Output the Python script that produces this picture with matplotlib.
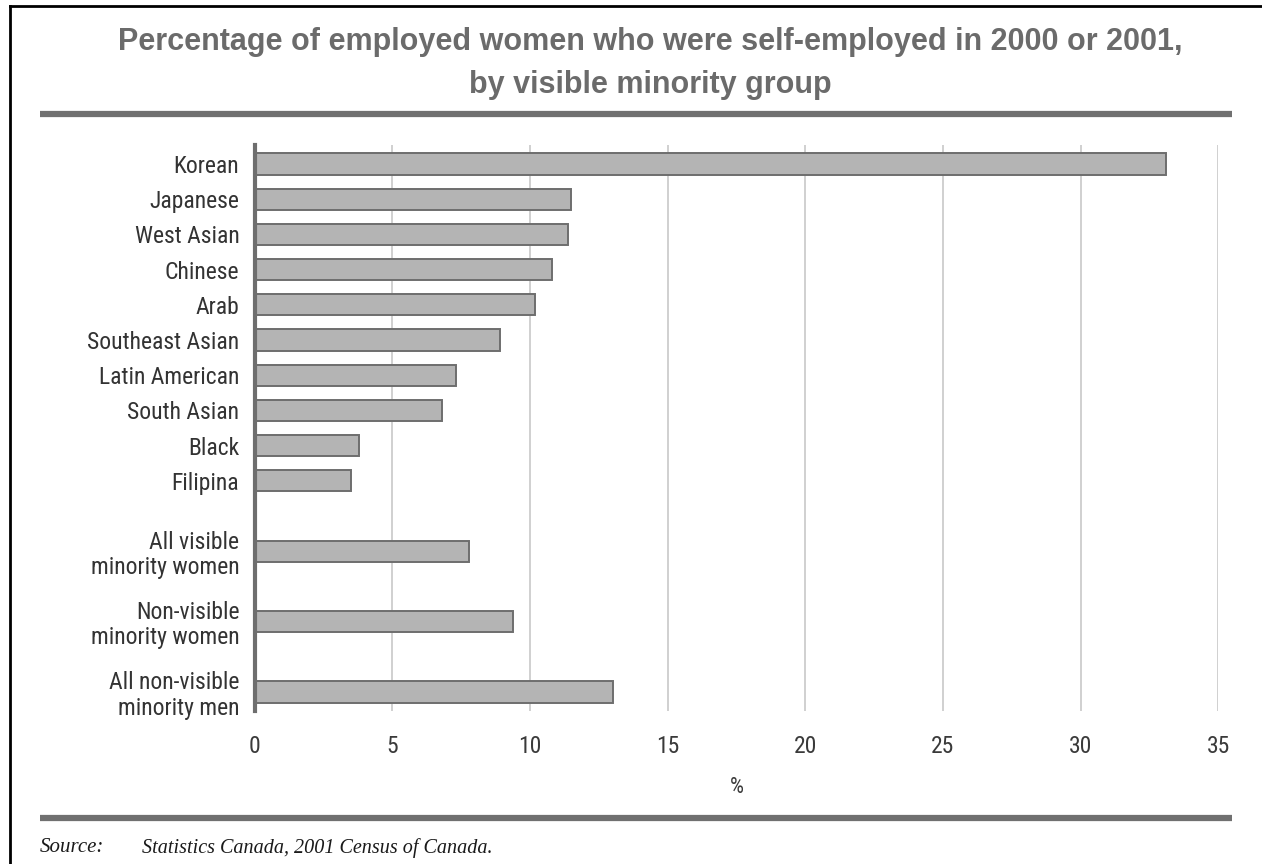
import matplotlib
matplotlib.use("Agg")
import matplotlib.pyplot as plt
from matplotlib.lines import Line2D

# Self-employment rates (%) of employed women, 2000 or 2001
groups = [
    "Korean", "Japanese", "West Asian", "Chinese", "Arab",
    "Southeast Asian", "Latin American", "South Asian", "Black", "Filipina",
    "All visible\nminority women", "Non-visible\nminority women",
    "All non-visible\nminority men",
]
percent = [33.1, 11.5, 11.4, 10.8, 10.2, 8.9, 7.3, 6.8, 3.8, 3.5, 7.8, 9.4, 13.0]
# row slots: a blank slot separates the group rows from the summary rows
slots = [0, 1, 2, 3, 4, 5, 6, 7, 8, 9, 11, 13, 15]
x_ticks = [0, 5, 10, 15, 20, 25, 30, 35]

title_lines = ["Percentage of employed women who were self-employed in 2000 or 2001,",
               "by visible minority group"]
source_label = "Source:"
source_text = "Statistics Canada, 2001 Census of Canada."

label_font = ["Liberation Sans Narrow", "Roboto Condensed", "Roboto", "DejaVu Sans"]

W, H = 1262, 864
fig = plt.figure(figsize=(W / 100, H / 100), dpi=100)
fig.patch.set_facecolor("white")

ax = fig.add_axes([254.6 / W, 1 - 711 / H, (1218.3 - 254.6) / W, (711 - 145) / H])
ax.barh(slots, percent, height=0.6, color="#b4b4b4", edgecolor="#6e6e6e",
        linewidth=1.4, zorder=3)

ax.set_xlim(0, 35)
ax.set_ylim(15.54, -0.54)
ax.set_xticks(x_ticks)
ax.set_yticks(slots)
ax.set_yticklabels(groups, family=label_font, fontsize=17, color="#333333",
                   multialignment="right", linespacing=1.12)
ax.set_xticklabels([str(t) for t in x_ticks], family=label_font, fontsize=17,
                   color="#3a3a3a")
ax.tick_params(axis="both", length=0)
ax.tick_params(axis="x", pad=17)
ax.tick_params(axis="y", pad=11)
ax.set_xlabel("%", family=label_font, fontsize=16, color="#3a3a3a", labelpad=14)

ax.xaxis.grid(True, color="#c4c4c4", linewidth=1.1, zorder=0)
ax.set_axisbelow(True)
for side in ("top", "right", "bottom"):
    ax.spines[side].set_visible(False)
ax.spines["left"].set_color("#6e6e6e")
ax.spines["left"].set_linewidth(3)
ax.spines["left"].set_zorder(4)

# title (two centred lines) and rules
title_font = ["Liberation Sans", "DejaVu Sans"]
for line, base_y in zip(title_lines, (50, 93)):
    fig.text(650 / W, 1 - base_y / H, line, ha="center", va="baseline", fontsize=22,
             fontweight="bold", color="#6b6b6b", family=title_font)
fig.add_artist(Line2D([40 / W, 1232 / W], [1 - 114 / H, 1 - 114 / H],
                      color="#707070", linewidth=4.5, solid_capstyle="butt"))
fig.add_artist(Line2D([40 / W, 1232 / W], [1 - 818 / H, 1 - 818 / H],
                      color="#707070", linewidth=4.5, solid_capstyle="butt"))

# frame edges
fig.add_artist(Line2D([10 / W, 1], [1 - 6 / H, 1 - 6 / H], color="black", linewidth=2))
fig.add_artist(Line2D([10 / W, 10 / W], [0, 1 - 6 / H], color="black", linewidth=2))

# source note
serif = ["Liberation Serif", "DejaVu Serif"]
fig.text(40 / W, 1 - 848 / H, source_label, ha="left", va="center", fontsize=15,
         style="italic", color="#1a1a1a", family=serif)
fig.text(142 / W, 1 - 848 / H, source_text, ha="left", va="center", fontsize=14.5,
         style="italic", color="#1a1a1a", family=serif)

fig.savefig("out.png", dpi=100, facecolor="white")
